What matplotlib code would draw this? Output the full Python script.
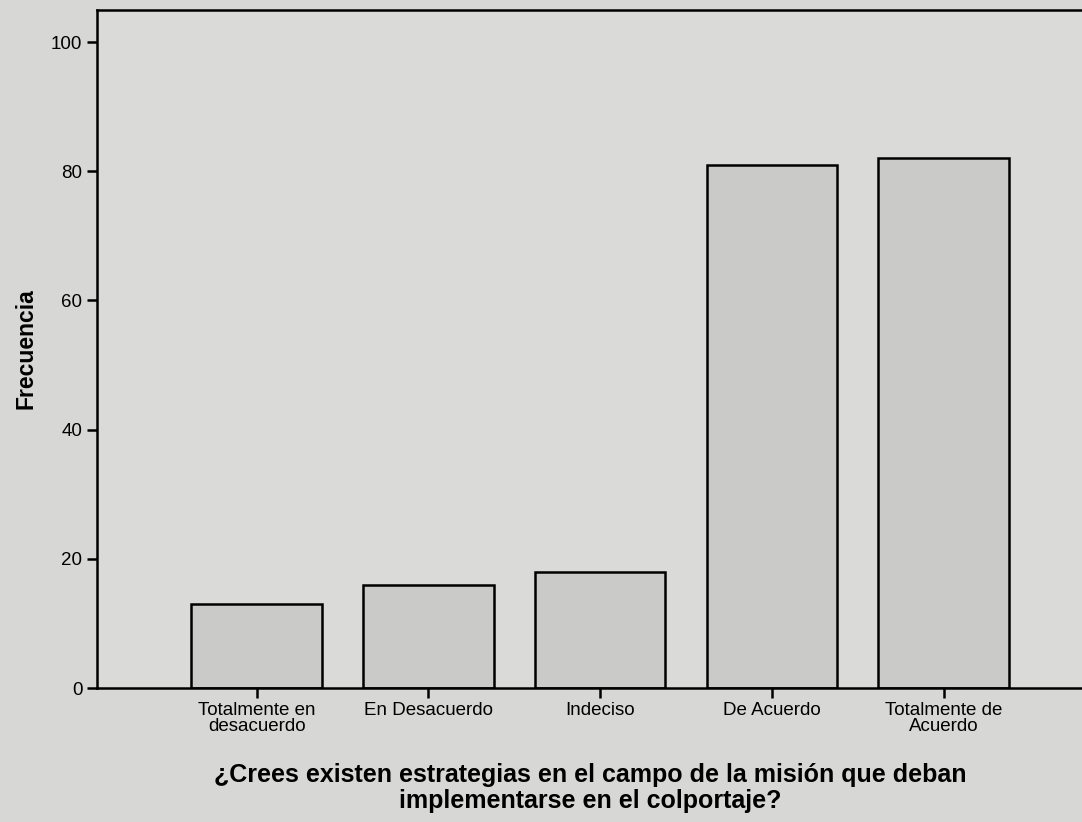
import numpy as np
import matplotlib
matplotlib.use('Agg')
import matplotlib.pyplot as plt

plt.rcParams['font.family'] = ['Liberation Sans', 'DejaVu Sans']

categorias = ['Totalmente en\ndesacuerdo', 'En Desacuerdo', 'Indeciso',
              'De Acuerdo', 'Totalmente de\nAcuerdo']
frecuencia = [13, 16, 18, 81, 82]
yticks = [0, 20, 40, 60, 80, 100]

fig = plt.figure(figsize=(10.82, 8.22), dpi=100, facecolor='#d7d7d5')
ax = fig.add_axes([0.0896, 0.163, 0.93, 0.825])
ax.set_facecolor('#dadad8')

x = np.arange(len(categorias))
ax.bar(x, frecuencia, width=0.76, color='#cacac8', edgecolor='black', linewidth=1.8)

ax.set_xlim(-0.93, 4.93)
ax.set_ylim(0, 105)
ax.set_yticks(yticks)
ax.set_yticklabels([str(v) for v in yticks], fontsize=13.5)
ax.set_xticks(x)
ax.set_xticklabels(categorias, fontsize=13.5, linespacing=0.95)
ax.tick_params(axis='both', direction='out', length=7, width=1.8, colors='black')
ax.tick_params(axis='x', pad=3)

for side in ['left', 'bottom', 'top', 'right']:
    ax.spines[side].set_linewidth(1.8)

ax.set_ylabel('Frecuencia', fontsize=16.5, fontweight='bold')
ax.yaxis.set_label_coords(-0.059, 0.5, transform=ax.transAxes)
ax.set_xlabel('¿Crees existen estrategias en el campo de la misión que deban\nimplementarse en el colportaje?',
              fontsize=18, fontweight='bold', linespacing=1.15)
ax.xaxis.set_label_coords(0.49, -0.11, transform=ax.transAxes)
ax.xaxis.label.set_verticalalignment('top')

fig.savefig('out.png', dpi=100, facecolor=fig.get_facecolor())
